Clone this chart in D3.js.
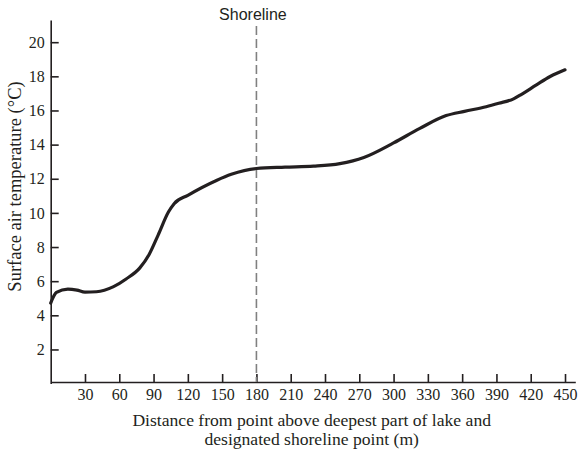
<!DOCTYPE html>
<html>
<head>
<meta charset="utf-8">
<script src="https://cdn.jsdelivr.net/npm/d3@7"></script>
<style>
  html, body { margin: 0; padding: 0; background: #fff; }
  svg { display: block; }
</style>
</head>
<body>
<script>
// ---- data ----
const distance = [0, 5, 15, 23, 30, 40, 55, 66, 78, 86, 94, 103, 108, 120, 145, 158, 180, 205, 230, 253, 274, 300, 323, 346, 362, 381, 392, 405, 412, 425, 437, 450];
const temperature = [4.72, 5.34, 5.54, 5.48, 5.36, 5.38, 5.68, 6.13, 6.78, 7.55, 8.7, 10.05, 10.54, 11.03, 11.9, 12.26, 12.6, 12.68, 12.74, 12.89, 13.25, 14.1, 14.95, 15.7, 15.95, 16.22, 16.42, 16.68, 16.95, 17.5, 17.99, 18.38];
const xTicks = [30, 60, 90, 120, 150, 180, 210, 240, 270, 300, 330, 360, 390, 420, 450];
const yTicks = [2, 4, 6, 8, 10, 12, 14, 16, 18, 20];
const shorelineX = 180;
const shorelineLabel = "Shoreline";
const xTitle = ["Distance from point above deepest part of lake and", "designated shoreline point (m)"];
const yTitle = "Surface air temperature (\u00B0C)";

const SERIF = "'Liberation Serif', 'Times New Roman', serif";
const INK = "#231f20";
const W = 580, H = 453;
const svg = d3.select("body").append("svg").attr("width", W).attr("height", H);
svg.append("rect").attr("width", W).attr("height", H).attr("fill", "#fff");

const x = d3.scaleLinear().domain([0, 459]).range([50.7, 575.3]);
const y = d3.scaleLinear().domain([0, 21.3]).range([383.6, 20]);
const axisY = 382;

function styleAxis(g) {
  g.attr("font-family", SERIF).attr("font-size", 16);
  g.selectAll("text").attr("fill", INK).style("font-family", SERIF).style("font-size", "16px");
  g.selectAll("path, line").attr("stroke", INK).attr("stroke-width", 1.6);
}

// x axis
svg.append("g")
  .attr("transform", `translate(0,${axisY})`)
  .call(d3.axisBottom(x).tickValues(xTicks).tickSizeInner(-8).tickSizeOuter(0).tickPadding(7).tickFormat(d3.format("d")))
  .call(styleAxis);

// y axis
svg.append("g")
  .attr("transform", `translate(${x(0)},0)`)
  .call(d3.axisLeft(y).tickValues(yTicks).tickSizeInner(-8).tickSizeOuter(0).tickPadding(6).tickFormat(d3.format("d")))
  .call(styleAxis);

// shoreline dashed line
svg.append("line")
  .attr("x1", x(shorelineX)).attr("x2", x(shorelineX))
  .attr("y1", 26).attr("y2", axisY)
  .attr("stroke", "#808080").attr("stroke-width", 1.6)
  .attr("stroke-dasharray", "9,4");

svg.append("text")
  .attr("x", x(shorelineX) - 3.5).attr("y", 20)
  .attr("text-anchor", "middle")
  .style("font-family", "'Liberation Sans', Arial, sans-serif")
  .style("font-size", "16px").attr("fill", INK)
  .text(shorelineLabel);

// curve
const line = d3.line()
  .x((d, i) => x(distance[i]))
  .y(d => y(d))
  .curve(d3.curveMonotoneX);
svg.append("path")
  .datum(temperature)
  .attr("d", line)
  .attr("fill", "none")
  .attr("stroke", INK)
  .attr("stroke-width", 3.2)
  .attr("stroke-linejoin", "round")
  .attr("stroke-linecap", "round");

// axis titles
svg.selectAll("text.xtitle").data(xTitle).enter().append("text")
  .attr("class", "xtitle")
  .attr("x", 311.7).attr("y", (d, i) => 425.7 + i * 19)
  .attr("text-anchor", "middle")
  .style("font-family", SERIF)
  .style("font-size", "17.6px").attr("fill", INK)
  .text(d => d);

svg.append("text")
  .attr("transform", "translate(21,186.5) rotate(-90)")
  .attr("text-anchor", "middle")
  .style("font-family", SERIF)
  .style("font-size", "18.5px").attr("fill", INK)
  .text(yTitle);
</script>
</body>
</html>
